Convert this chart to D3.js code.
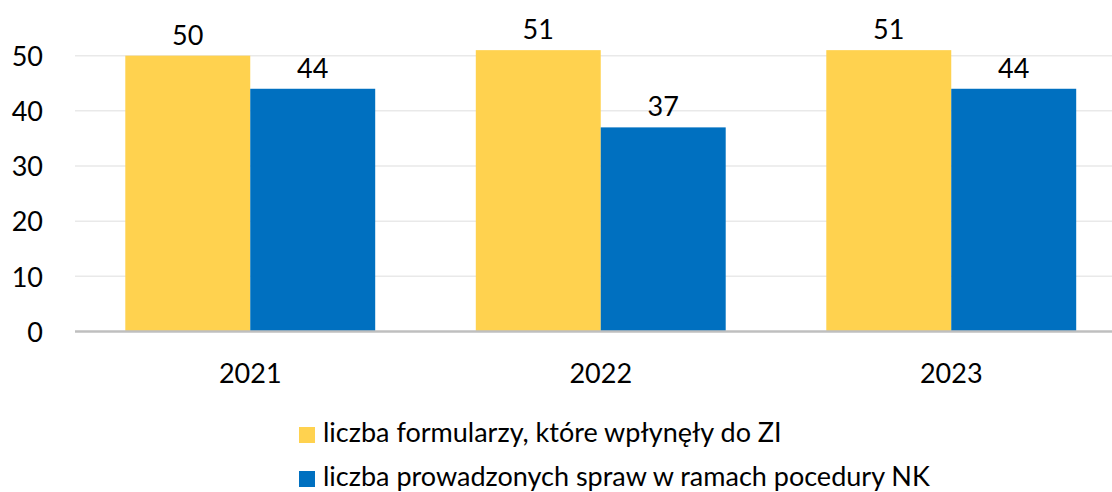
<!DOCTYPE html>
<html>
<head>
<meta charset="utf-8">
<script src="https://cdn.jsdelivr.net/npm/d3@7"></script>
<style>
  body { margin: 0; background: #fff; }
  svg text { font-family: Lato, "Noto Sans", sans-serif; fill: #000; }
</style>
</head>
<body>
<script>
var years = ["2021", "2022", "2023"];
var seriesNames = [
  "liczba formularzy, które wpłynęły do ZI",
  "liczba prowadzonych spraw w ramach pocedury NK"
];
var formularze = [50, 51, 51];
var sprawy = [44, 37, 44];
var yTicks = [0, 10, 20, 30, 40, 50];
var colors = ["#FFD24F", "#0070C0"];

var svg_Width = 1112;
var svg_Height = 492;

var svg = d3.select("body")
  .append("svg")
  .attr("width", svg_Width)
  .attr("height", svg_Height);

var rows = years.map(function (y, i) {
  return { year: y, values: [formularze[i], sprawy[i]] };
});

// scales
var x0 = d3.scaleBand()
  .domain(years)
  .range([75, 1126.5])
  .paddingInner(0.287)
  .paddingOuter(0.1435);

var x1 = d3.scaleBand()
  .domain([0, 1])
  .range([0, x0.bandwidth()]);

var y = d3.scaleLinear()
  .domain([0, 60])
  .range([331.5, 0.5]);

// gridlines
svg.append("g")
  .selectAll("line")
  .data(yTicks.filter(d => d > 0))
  .enter()
  .append("line")
  .attr("x1", 75)
  .attr("x2", svg_Width)
  .attr("y1", d => y(d))
  .attr("y2", d => y(d))
  .attr("stroke", "#e9e9e9")
  .attr("stroke-width", 1.5);

// y axis labels
var leftAxis = d3.axisLeft(y).tickValues(yTicks).tickSize(0).tickPadding(0);
var yAxis = svg.append("g")
  .attr("transform", "translate(43,0)")
  .call(leftAxis);
yAxis.select(".domain").remove();
yAxis.selectAll("text")
  .attr("font-size", 27)
  .attr("font-family", null)
  .attr("fill", null)
  .attr("dy", "0.36em");

// bars
var groups = svg.append("g")
  .selectAll("g")
  .data(rows)
  .enter()
  .append("g")
  .attr("transform", d => `translate(${x0(d.year)},0)`);

groups.selectAll("rect")
  .data(d => d.values)
  .enter()
  .append("rect")
  .attr("x", (d, i) => x1(i))
  .attr("width", x1.bandwidth())
  .attr("y", d => y(d))
  .attr("height", d => y(0) - y(d))
  .attr("fill", (d, i) => colors[i]);

// value labels
groups.selectAll("text")
  .data(d => d.values)
  .enter()
  .append("text")
  .attr("x", (d, i) => x1(i) + x1.bandwidth() / 2)
  .attr("y", d => y(d) - 11)
  .attr("text-anchor", "middle")
  .attr("font-size", 27)
  .text(d => d);

// baseline
svg.append("line")
  .attr("x1", 75)
  .attr("x2", svg_Width)
  .attr("y1", y(0))
  .attr("y2", y(0))
  .attr("stroke", "#bfbfbf")
  .attr("stroke-width", 2.5);

// x axis labels
var bottomAxis = d3.axisBottom(x0).tickSize(0).tickPadding(0);
var xAxis = svg.append("g")
  .attr("transform", "translate(0,383)")
  .call(bottomAxis);
xAxis.select(".domain").remove();
xAxis.selectAll("text")
  .attr("font-size", 27)
  .attr("font-family", null)
  .attr("fill", null)
  .attr("dy", 0);

// legend
var legend = svg.append("g")
  .selectAll("g")
  .data(seriesNames)
  .enter()
  .append("g")
  .attr("transform", (d, i) => `translate(299,${442 + i * 44})`);

legend.append("rect")
  .attr("x", 0)
  .attr("y", -15)
  .attr("width", 16)
  .attr("height", 16)
  .attr("fill", (d, i) => colors[i]);

legend.append("text")
  .attr("x", 24)
  .attr("y", 0)
  .attr("font-size", 27)
  .text(d => d);
</script>
</body>
</html>
